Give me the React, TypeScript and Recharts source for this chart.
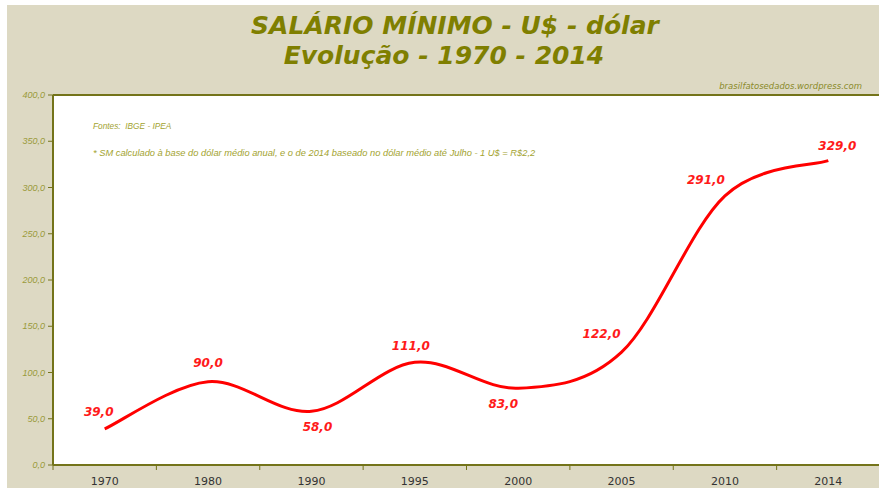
import React from "react";
import { LineChart, Line, XAxis, YAxis, CartesianGrid, ReferenceLine, LabelList } from "recharts";

const years = ["1970", "1980", "1990", "1995", "2000", "2005", "2010", "2014"];
const salaryUsd = [39, 90, 58, 111, 83, 122, 291, 329];
const yTicks = [0, 50, 100, 150, 200, 250, 300, 350, 400];

// where each value label sits relative to its point (dx, dy), like the Excel original
const labelOffsets = [
  [-6, -17], [0, -19], [6, 16], [-4, -16], [-15, 16], [-20, -18], [-19, -16], [9, -15],
];

const data = years.map((year, i) => ({ year, value: salaryUsd[i] }));

const OLIVE = "#7f7f00";
const AXIS = "#74741a";
const BEIGE = "#DDD9C3";
const NOTE = "#a3a330";

const fmt = (v: number) => v.toFixed(1).replace(".", ",");

// Excel-like smoothed line (Catmull-Rom through the points)
const excelSmooth: any = (context: any) => {
  let pts: number[][] = [];
  return {
    areaStart() {},
    areaEnd() {},
    lineStart() {
      pts = [];
    },
    lineEnd() {
      if (!pts.length) return;
      context.moveTo(pts[0][0], pts[0][1]);
      for (let i = 0; i < pts.length - 1; i++) {
        const p0 = pts[i - 1] || pts[i];
        const p1 = pts[i];
        const p2 = pts[i + 1];
        const p3 = pts[i + 2] || p2;
        context.bezierCurveTo(
          p1[0] + (p2[0] - p0[0]) / 6,
          p1[1] + (p2[1] - p0[1]) / 6,
          p2[0] - (p3[0] - p1[0]) / 6,
          p2[1] - (p3[1] - p1[1]) / 6,
          p2[0],
          p2[1]
        );
      }
    },
    point(x: number, y: number) {
      pts.push([+x, +y]);
    },
  };
};

const XTick = (props: any) => {
  const { x, y, payload, index } = props;
  const half = (payload && payload.offset) || 51.7;
  return (
    <g>
      {index === 0 && <line x1={x - half} x2={x - half} y1={y} y2={y + 5} stroke={AXIS} />}
      <line x1={x + half} x2={x + half} y1={y} y2={y + 5} stroke={AXIS} />
      <text x={x} y={y + 20} textAnchor="middle" fontSize={11} fill="#333" fontFamily="DejaVu Sans">
        {payload.value}
      </text>
    </g>
  );
};

const renderLabel = (props: any) => {
  const { x, y, value, index } = props;
  const [dx, dy] = labelOffsets[index] || [0, -16];
  return (
    <text
      x={x + dx}
      y={y + dy}
      textAnchor="middle"
      dominantBaseline="central"
      fontSize={12}
      fontWeight="bold"
      fontStyle="italic"
      fontFamily="DejaVu Sans"
      fill="#ff1a1a"
    >
      {fmt(value)}
    </text>
  );
};

export default function App() {
  return (
    <div style={{ position: "absolute", left: 0, top: 0, width: 879, height: 491, background: "#fff", overflow: "hidden" }}>
      <div style={{ position: "absolute", left: 7, top: 5, width: 872, height: 483, background: BEIGE }} />

      <div
        style={{
          position: "absolute", left: 455, top: 11, transform: "translateX(-50%)", whiteSpace: "nowrap",
          fontFamily: "DejaVu Sans", fontWeight: "bold", fontStyle: "italic", fontSize: 25, lineHeight: "30px", color: OLIVE,
        }}
      >
        SALÁRIO MÍNIMO - U$ - dólar
      </div>
      <div
        style={{
          position: "absolute", left: 444, top: 41, transform: "translateX(-50%)", whiteSpace: "nowrap",
          fontFamily: "DejaVu Sans", fontWeight: "bold", fontStyle: "italic", fontSize: 25, lineHeight: "30px", color: OLIVE,
        }}
      >
        Evolução - 1970 - 2014
      </div>
      <div
        style={{
          position: "absolute", left: 0, width: 862, top: 80, textAlign: "right", whiteSpace: "nowrap",
          fontFamily: "DejaVu Sans", fontStyle: "italic", fontSize: 8.5, lineHeight: "12px", color: "#8a8a2a",
        }}
      >
        brasilfatosedados.wordpress.com
      </div>

      <div style={{ position: "absolute", left: 7, top: 5 }}>
        <LineChart width={874} height={484} data={data} margin={{ top: 90, right: 1, bottom: 0, left: 0 }}>
          <CartesianGrid horizontal={false} vertical={false} fill="#fff" stroke="none" />
          <ReferenceLine y={400} stroke={AXIS} strokeWidth={2} />
          <XAxis
            dataKey="year"
            scale="band"
            height={24}
            tickSize={0}
            tickMargin={0}
            tickLine={false}
            axisLine={{ stroke: AXIS, strokeWidth: 2 }}
            tick={<XTick />}
            interval={0}
          />
          <YAxis
            width={46}
            domain={[0, 400]}
            ticks={yTicks}
            tickFormatter={fmt}
            tickSize={5}
            tickMargin={3}
            axisLine={{ stroke: AXIS, strokeWidth: 2 }}
            tickLine={{ stroke: AXIS }}
            tick={{ fontSize: 9, fontStyle: "italic", fill: "#9a9a3a", fontFamily: "Liberation Sans" }}
          />
          <Line
            dataKey="value"
            type={excelSmooth}
            stroke="#ff0000"
            strokeWidth={3}
            dot={false}
            activeDot={false}
            isAnimationActive={false}
          >
            <LabelList dataKey="value" content={renderLabel} />
          </Line>
        </LineChart>
      </div>

      <div
        style={{
          position: "absolute", left: 93, top: 120, whiteSpace: "nowrap",
          fontFamily: "Liberation Sans", fontStyle: "italic", fontSize: 8.3, lineHeight: "12px", color: NOTE,
        }}
      >
        Fontes:&nbsp; IBGE - IPEA
      </div>
      <div
        style={{
          position: "absolute", left: 93, top: 147, whiteSpace: "nowrap",
          fontFamily: "Liberation Sans", fontStyle: "italic", fontSize: 9.3, lineHeight: "12px", color: NOTE,
        }}
      >
        * SM calculado à base do dólar médio anual, e o de 2014 baseado no dólar médio até Julho - 1 U$ = R$2,2
      </div>
    </div>
  );
}
